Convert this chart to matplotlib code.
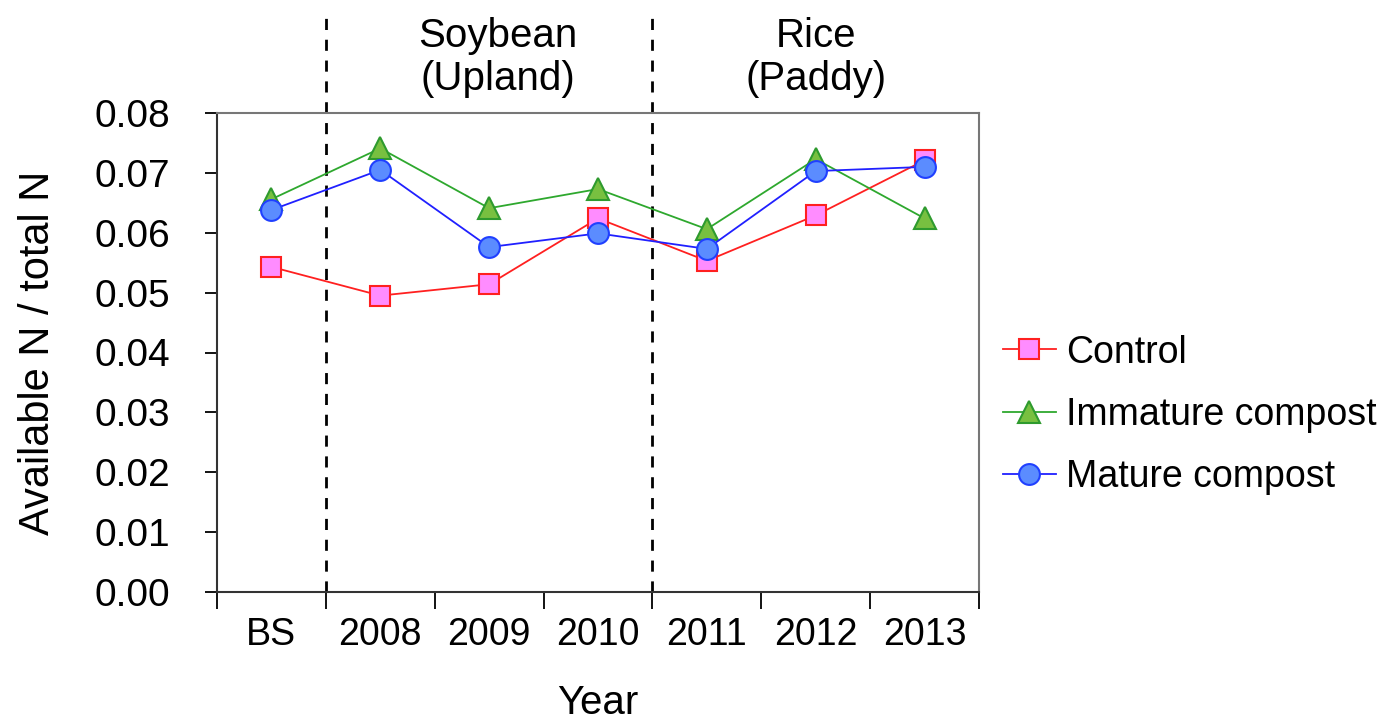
import matplotlib
matplotlib.use("Agg")
from matplotlib import pyplot as plt
import numpy as np

years = ["BS", "2008", "2009", "2010", "2011", "2012", "2013"]
control = [0.0543, 0.0495, 0.0514, 0.0624, 0.0553, 0.0629, 0.0721]
immature = [0.0656, 0.0741, 0.0641, 0.0673, 0.0606, 0.0723, 0.0624]
mature = [0.0638, 0.0705, 0.0576, 0.0599, 0.0573, 0.0703, 0.0710]
periods = ["Soybean\n(Upland)", "Rice\n(Paddy)"]

plt.rcParams['font.family'] = ['Liberation Sans', 'DejaVu Sans']

fig = plt.figure(figsize=(13.93, 7.22), dpi=100)
ax = fig.add_axes([217 / 1393, 130 / 722, 762 / 1393, 479 / 722])

x = np.arange(len(years))
ax.plot(x, control, color='#ff2020', lw=1.3, marker='s', ms=14,
        mfc='#ff8cff', mec='#ff2020', mew=1.5, label='Control', zorder=3)
ax.plot(x, immature, color='#2ea82e', lw=1.3, marker='^', ms=16,
        mfc='#78c040', mec='#2e9a2e', mew=1.5, label='Immature compost', zorder=3)
ax.plot(x, mature, color='#2020ff', lw=1.3, marker='o', ms=15,
        mfc='#5b8cff', mec='#2040ff', mew=1.5, label='Mature compost', zorder=4)

ax.set_xlim(-0.5, 6.5)
ax.set_ylim(0, 0.08)

# dashed separators reaching above the plot
for xv in [0.5, 3.5]:
    ax.plot([xv, xv], [0, 0.0972], color='black', lw=2, ls=(0, (4, 3.5)),
            clip_on=False, zorder=2)

ax.text(2.08, 0.0893, periods[0], ha='center', va='center', fontsize=29,
        linespacing=1.15)
ax.text(5.0, 0.0893, periods[1], ha='center', va='center', fontsize=29,
        linespacing=1.15)

ax.set_xticks(x)
ax.set_xticklabels(years, fontsize=27)
ax.set_xticks(np.arange(-0.5, 7, 1), minor=True)
ax.tick_params(axis='x', which='major', length=0, pad=18)
ax.tick_params(axis='x', which='minor', length=12, width=1.3, direction='out')
ax.set_yticks(np.arange(0, 0.081, 0.01))
ax.set_yticklabels(["%.2f" % v for v in np.arange(0, 0.081, 0.01)], fontsize=28)
ax.tick_params(axis='y', length=9, width=1.3, direction='out', pad=25)

for s in ['top', 'right']:
    ax.spines[s].set_color('#777777')
    ax.spines[s].set_linewidth(1.5)
for s in ['left', 'bottom']:
    ax.spines[s].set_color('#333333')
    ax.spines[s].set_linewidth(1.5)

ax.set_xlabel('Year', fontsize=29, labelpad=22)
ax.set_ylabel('Available N / total N', fontsize=30, labelpad=26)

ax.legend(loc='center left', bbox_to_anchor=(1.012, 0.37), frameon=False,
          fontsize=27, handlelength=1.4, handletextpad=0.27, labelspacing=0.7,
          borderaxespad=0)

fig.savefig('out.png', dpi=100)
